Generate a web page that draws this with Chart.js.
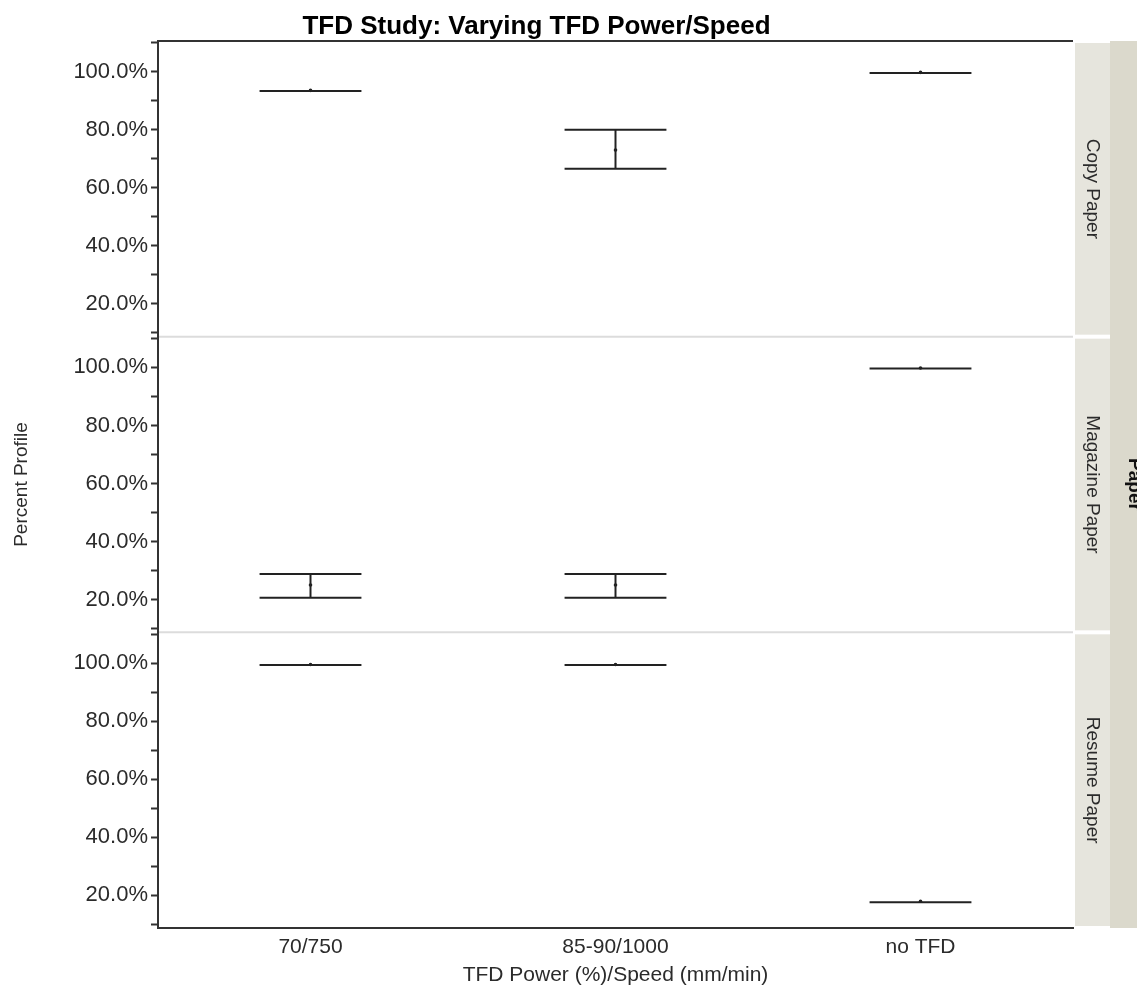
<!DOCTYPE html>
<html>
<head>
<meta charset="utf-8">
<script src="https://cdn.jsdelivr.net/npm/chart.js@4.4.1/dist/chart.umd.min.js"></script>
<style>
  html, body { margin: 0; padding: 0; background: #fff; }
  #wrap { width: 1137px; height: 996px; }
</style>
</head>
<body>
<div id="wrap"><canvas id="chart"></canvas></div>
<script>
// categories on the x axis and one panel per paper type
const categories = ['70/750', '85-90/1000', 'no TFD'];
const papers = ['Copy Paper', 'Magazine Paper', 'Resume Paper'];

// mean, lower and upper values (percent) per category
const copyMean = [93.6, 73.0, 99.8];
const copyLower = [93.4, 66.6, 99.6];
const copyUpper = [93.4, 80.0, 99.6];

const magazineMean = [25.0, 25.0, 99.8];
const magazineLower = [20.6, 20.6, 99.6];
const magazineUpper = [28.8, 28.8, 99.6];

const resumeMean = [99.5, 99.5, 17.9];
const resumeLower = [99.3, 99.3, 17.6];
const resumeUpper = [99.3, 99.3, 17.6];

const yTicks = [10, 20, 30, 40, 50, 60, 70, 80, 90, 100, 110];

const FONT = "'Liberation Sans', Arial, sans-serif";
const INK = '#222';
const capHalf = 0.167;

const errorSegments = (lower, upper) => {
  const pts = [];
  lower.forEach((lo, i) => {
    const hi = upper[i];
    pts.push({x: i - capHalf, y: hi}, {x: i + capHalf, y: hi}, {x: i, y: null});
    pts.push({x: i - capHalf, y: lo}, {x: i + capHalf, y: lo}, {x: i, y: null});
    pts.push({x: i, y: lo}, {x: i, y: hi}, {x: i, y: null});
  });
  return pts;
};

const meanPoints = (mean) => mean.map((v, i) => ({x: i, y: v}));

const panels = [
  {id: 'yCopy', mean: copyMean, lower: copyLower, upper: copyUpper},
  {id: 'yMagazine', mean: magazineMean, lower: magazineLower, upper: magazineUpper},
  {id: 'yResume', mean: resumeMean, lower: resumeLower, upper: resumeUpper}
];

const datasets = [];
panels.forEach(p => {
  datasets.push({
    data: errorSegments(p.lower, p.upper),
    yAxisID: p.id,
    showLine: true,
    spanGaps: false,
    borderColor: INK,
    borderWidth: 2,
    pointRadius: 0
  });
  datasets.push({
    data: meanPoints(p.mean),
    yAxisID: p.id,
    showLine: false,
    pointRadius: 1.8,
    pointBackgroundColor: INK,
    pointBorderWidth: 0
  });
});

const yAxis = (weight, withTitle) => ({
  type: 'linear',
  position: 'left',
  stack: 'panels',
  stackWeight: 1,
  weight: weight,
  min: 8.7,
  max: 110.6,
  afterBuildTicks: s => { s.ticks = yTicks.map(v => ({value: v})); },
  afterFit: s => { s.width = 158; },
  border: {display: true, color: '#333', width: 2},
  grid: {drawOnChartArea: false, drawTicks: true, tickLength: 7, tickColor: '#333', tickWidth: 2},
  ticks: {
    autoSkip: false,
    color: '#2b2b2b',
    font: {family: FONT, size: 22},
    padding: 3,
    callback: v => (v % 20 === 0 && v >= 20 && v <= 100) ? v.toFixed(1) + '%' : ''
  },
  title: {
    display: withTitle,
    text: 'Percent Profile',
    color: '#2b2b2b',
    font: {family: FONT, size: 19},
    padding: {top: 10, bottom: 0}
  }
});

// strips on the right, panel separators and top border
const decorations = {
  id: 'decorations',
  afterDraw(chart) {
    const ctx = chart.ctx;
    const area = chart.chartArea;
    const stripL = area.right + 2;
    const stripR = stripL + 35;
    ctx.save();
    ctx.fillStyle = '#dbd9cc';
    ctx.fillRect(stripR, area.top, chart.width - stripR, area.bottom - area.top);
    panels.forEach((p, i) => {
      const s = chart.scales[p.id];
      ctx.fillStyle = '#e6e5dd';
      ctx.fillRect(stripL, s.top + 2, stripR - stripL, s.bottom - s.top - 4);
      ctx.save();
      ctx.translate((stripL + stripR) / 2, (s.top + s.bottom) / 2);
      ctx.rotate(Math.PI / 2);
      ctx.fillStyle = '#2b2b2b';
      ctx.font = '19px ' + FONT;
      ctx.textAlign = 'center';
      ctx.textBaseline = 'middle';
      ctx.fillText(papers[i], 0, 0);
      ctx.restore();
      if (i > 0) {
        ctx.strokeStyle = '#dcdcdc';
        ctx.lineWidth = 2;
        ctx.beginPath();
        ctx.moveTo(area.left + 1, s.top);
        ctx.lineTo(area.right, s.top);
        ctx.stroke();
      }
    });
    ctx.save();
    ctx.translate(stripR + 24, (area.top + area.bottom) / 2);
    ctx.rotate(Math.PI / 2);
    ctx.fillStyle = '#111';
    ctx.font = 'bold 19px ' + FONT;
    ctx.textAlign = 'center';
    ctx.textBaseline = 'middle';
    ctx.fillText('Paper', 0, 0);
    ctx.restore();
    ctx.strokeStyle = '#333';
    ctx.lineWidth = 2;
    ctx.beginPath();
    ctx.moveTo(area.left, area.top);
    ctx.lineTo(area.right, area.top);
    ctx.stroke();
    ctx.restore();
  }
};

new Chart(document.getElementById('chart').getContext('2d'), {
  type: 'scatter',
  data: {datasets: datasets},
  options: {
    responsive: true,
    maintainAspectRatio: false,
    animation: false,
    layout: {padding: {left: 0, right: 64, top: 0, bottom: 0}},
    plugins: {
      legend: {display: false},
      tooltip: {enabled: false},
      title: {
        display: true,
        text: 'TFD Study: Varying TFD Power/Speed',
        color: '#000',
        font: {family: FONT, size: 26, weight: 'bold', lineHeight: 1.0},
        padding: {top: 14, bottom: 1}
      }
    },
    scales: {
      x: {
        type: 'linear',
        min: -0.5,
        max: 2.5,
        afterBuildTicks: s => { s.ticks = categories.map((c, i) => ({value: i})); },
        afterFit: s => { s.height = 68; },
        border: {display: true, color: '#333', width: 2},
        grid: {display: false, drawTicks: false},
        ticks: {
          color: '#2b2b2b',
          font: {family: FONT, size: 21},
          padding: 7,
          maxRotation: 0,
          callback: v => categories[v]
        },
        title: {
          display: true,
          text: 'TFD Power (%)/Speed (mm/min)',
          color: '#2b2b2b',
          font: {family: FONT, size: 21},
          padding: {top: 0, bottom: 8}
        }
      },
      yCopy: yAxis(3, false),
      yMagazine: yAxis(2, true),
      yResume: yAxis(1, false)
    }
  },
  plugins: [decorations]
});
</script>
</body>
</html>
